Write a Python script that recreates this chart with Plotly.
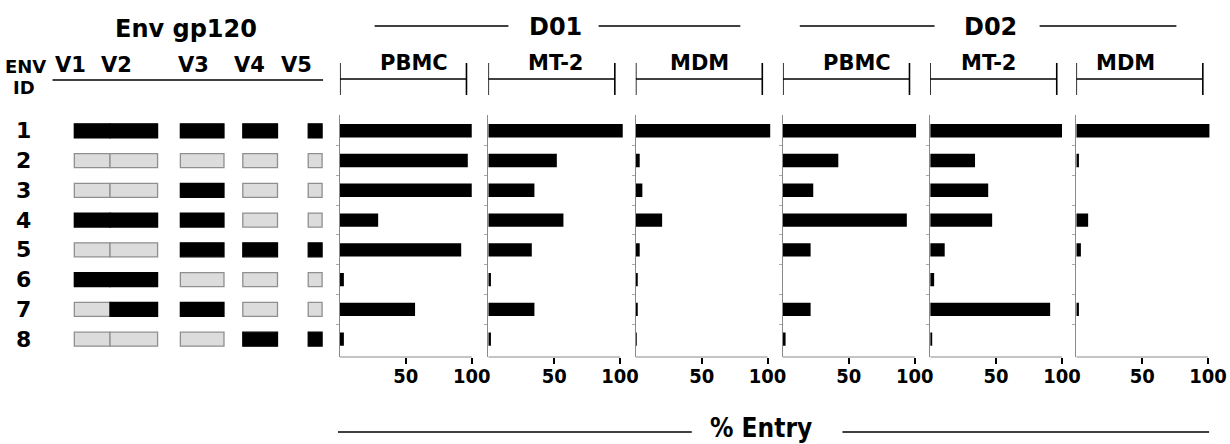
import plotly.graph_objects as go

# ---------------- data ----------------
env_ids = [1, 2, 3, 4, 5, 6, 7, 8]
env_regions = ["V1", "V2", "V3", "V4", "V5"]
# 1 = black segment, 0 = light grey segment
v1_black = [1, 0, 0, 1, 0, 1, 0, 0]
v2_black = [1, 0, 0, 1, 0, 1, 1, 0]
v3_black = [1, 0, 1, 1, 1, 0, 1, 0]
v4_black = [1, 0, 0, 0, 1, 0, 0, 1]
v5_black = [1, 0, 0, 0, 1, 0, 0, 1]

donors = ["D01", "D02"]
cell_types = ["PBMC", "MT-2", "MDM"]
d01_pbmc = [100, 97, 100, 29, 92, 3, 57, 3]
d01_mt2 = [102, 52, 35, 57, 33, 2, 35, 2]
d01_mdm = [102, 3, 5, 20, 3, 1, 1, 0.5]
d02_pbmc = [101, 42, 23, 94, 21, 0, 21, 2]
d02_mt2 = [100, 34, 44, 47, 11, 3, 91, 1.5]
d02_mdm = [101, 2, 0, 9, 3.5, 0, 2, 0]
tick_vals = [50, 100]
tick_text = ["50", "100"]

# ---------------- layout geometry (pixels) ----------------
W, H = 1230, 444
def fx(p):
    return p / W
def fy(p):
    return 1 - p / H

FONT = "DejaVu Sans"
NARROW = "DejaVu Sans Condensed, Liberation Sans Narrow, Arial Narrow, Liberation Sans, Arial"
panel_left = [343, 492.7, 641.5, 790, 938.6, 1086]
px_per_pct = 1.33
x_max = 106
y_dom = [fy(357), fy(115)]
y_rng = [8.6, 0.47]

fig = go.Figure()

series = [d01_pbmc, d01_mt2, d01_mdm, d02_pbmc, d02_mt2, d02_mdm]
layout_axes = {}
shapes = []
for i, vals in enumerate(series):
    n = "" if i == 0 else str(i + 1)
    fig.add_trace(go.Bar(
        x=vals, y=env_ids, orientation="h", width=0.45,
        marker=dict(color="black", line=dict(width=0)),
        xaxis="x" + n, yaxis="y" + n, showlegend=False,
        hovertemplate="ENV %{y}: %{x}%<extra></extra>",
    ))
    a = panel_left[i]
    layout_axes["xaxis" + n] = dict(
        domain=[fx(a), fx(a + x_max * px_per_pct)], range=[0, x_max],
        anchor="y" + n, showgrid=False, zeroline=False, showline=False,
        tickvals=tick_vals, ticktext=tick_text, ticks="outside", ticklen=6,
        tickwidth=1.5, tickcolor="black", ticklabelstandoff=-5,
        tickfont=dict(family=NARROW, size=20, color="black", weight="bold"),
    )
    layout_axes["yaxis" + n] = dict(
        domain=y_dom, range=y_rng, anchor="x" + n, showgrid=False,
        zeroline=False, showline=True, linecolor="#8a8a8a", linewidth=1,
        tickvals=[1.5, 2.5, 3.5, 4.5, 5.5, 6.5, 7.5], ticks="outside",
        ticklen=3, tickcolor="#aaaaaa", showticklabels=False,
    )
    # bottom axis line 0..100
    shapes.append(dict(type="line", xref="x" + n, yref="y" + n + " domain",
                       x0=0, x1=100, y0=0, y1=0,
                       line=dict(color="#8a8a8a", width=1)))
    # bracket above each panel
    by = fy(79)
    shapes.append(dict(type="line", xref="x" + n, yref="paper",
                       x0=0, x1=96, y0=by, y1=by, line=dict(color="black", width=1.6)))
    for xb in (0, 96):
        shapes.append(dict(type="line", xref="x" + n, yref="paper",
                           x0=xb, x1=xb, y0=fy(63), y1=fy(95),
                           line=dict(color="black", width=1.6)))

# ---------------- Env schematic ----------------
seg_bounds = [(75, 111), (111, 159), (182, 226), (245, 280), (311, 325)]
region_status = [v1_black, v2_black, v3_black, v4_black, v5_black]
for (x0, x1), status, rname in zip(seg_bounds, region_status, env_regions):
    fills = ["black" if s else "#dcdcdc" for s in status]
    edges = ["black" if s else "#8f8f8f" for s in status]
    fig.add_trace(go.Bar(
        x=[x1 - x0] * len(env_ids), base=[x0] * len(env_ids), y=env_ids,
        orientation="h", width=0.47,
        marker=dict(color=fills, line=dict(color=edges, width=1.3)),
        xaxis="x7", yaxis="y7", showlegend=False, name=rname,
        hovertemplate=rname + " ENV %{y}<extra></extra>",
    ))
layout_axes["xaxis7"] = dict(domain=[0, fx(340)], range=[0, 340], anchor="y7",
                             visible=False)
layout_axes["yaxis7"] = dict(domain=y_dom, range=y_rng, anchor="x7", visible=False)

annotations = []
def txt(text, x, y, size, family=FONT, xref="paper", yref="paper"):
    annotations.append(dict(text=text, x=x, y=y, xref=xref, yref=yref,
                            showarrow=False, xanchor="center", yanchor="middle",
                            font=dict(family=family, size=size, color="black",
                                      weight="bold")))

for rid in env_ids:
    txt(str(rid), 24, rid, 22, xref="x7", yref="y7")

txt("Env gp120", fx(188), fy(29), 24)
txt("ENV", fx(26), fy(66), 18)
txt("ID", fx(24), fy(88), 18)
for lab, xc in zip(env_regions, [71, 118, 195, 252, 299]):
    txt(lab, fx(xc), fy(65), 21)
shapes.append(dict(type="line", xref="paper", yref="paper", x0=fx(53), x1=fx(326),
                   y0=fy(80), y1=fy(80), line=dict(color="black", width=1.6)))

# donor headers
for d, xc, l1, l2 in zip(donors, [561, 999], [(378, 513), (807, 943)],
                         [(604, 747), (1049, 1187)]):
    txt(d, fx(xc), fy(27), 24)
    for (a, b) in (l1, l2):
        shapes.append(dict(type="line", xref="paper", yref="paper", x0=fx(a), x1=fx(b),
                           y0=fy(26), y1=fy(26), line=dict(color="black", width=1.6)))

# cell-type headers
ct_centers = [418, 561, 706, 865, 997, 1136]
for k, xc in enumerate(ct_centers):
    txt(cell_types[k % 3], fx(xc), fy(63), 21)

# % Entry
txt("% Entry", fx(768), fy(428), 26, family=NARROW)
for (a, b) in ((341, 698), (850, 1220)):
    shapes.append(dict(type="line", xref="paper", yref="paper", x0=fx(a), x1=fx(b),
                       y0=fy(432), y1=fy(432), line=dict(color="black", width=1.6)))

fig.update_layout(
    width=W, height=H, margin=dict(l=0, r=0, t=0, b=0),
    paper_bgcolor="white", plot_bgcolor="white", barmode="overlay",
    shapes=shapes, annotations=annotations, **layout_axes,
)

fig.write_html(
    "out.html",
    config={"displayModeBar": False},
    post_script=("document.documentElement.style.margin='0';"
                 "document.documentElement.style.overflow='hidden';"
                 "document.body.style.margin='0';document.body.style.padding='0';"
                 "document.body.style.overflow='hidden';"),
)
